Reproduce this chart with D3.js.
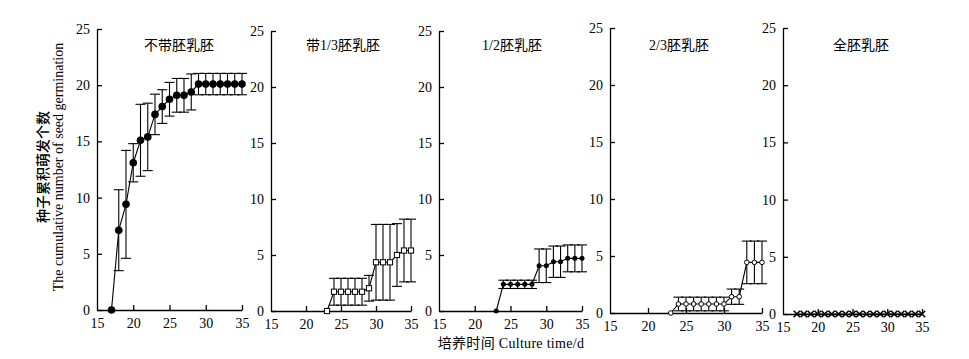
<!DOCTYPE html>
<html><head><meta charset="utf-8">
<script src="https://cdn.jsdelivr.net/npm/d3@7"></script>
<style>html,body{margin:0;padding:0;background:#fff;}</style>
</head><body>
<script>
// ---- data ----
const titles = ["不带胚乳胚", "带1/3胚乳胚", "1/2胚乳胚", "2/3胚乳胚", "全胚乳胚"];
const days1 = [17,18,19,20,21,22,23,24,25,26,27,28,29,30,31,32,33,34,35];
const mean1 = [0,7.1,9.4,13.1,15.1,15.4,17.4,18.1,18.75,19.1,19.1,19.4,20.1,20.1,20.1,20.1,20.1,20.1,20.1];
const sd1   = [0,3.6,4.8,1.7,3.2,3.0,1.8,1.5,1.5,1.5,1.5,1.6,0.95,0.95,0.95,0.95,0.95,0.95,0.95];
const days2 = [23,24,25,26,27,28,29,30,31,32,33,34,35];
const mean2 = [0,1.72,1.72,1.72,1.72,1.72,2.03,4.35,4.35,4.35,5.0,5.4,5.4];
const sd2   = [0,1.2,1.2,1.2,1.2,1.2,1.15,3.38,3.38,3.38,2.8,2.8,2.8];
const days3 = [23,24,25,26,27,28,29,30,31,32,33,34,35];
const mean3 = [0,2.38,2.38,2.38,2.38,2.38,4.04,4.04,4.4,4.4,4.7,4.7,4.7];
const sd3   = [0,0.37,0.37,0.37,0.37,0.37,1.5,1.5,1.4,1.4,1.2,1.2,1.2];
const days4 = [23,24,25,26,27,28,29,30,31,32,33,34,35];
const mean4 = [0,0.79,0.79,0.79,0.79,0.79,0.79,0.79,1.43,1.43,4.44,4.44,4.44];
const sd4   = [0,0.6,0.6,0.6,0.6,0.6,0.6,0.6,0.67,0.67,1.87,1.87,1.87];
const days5 = [17,18,19,20,21,22,23,24,25,26,27,28,29,30,31,32,33,34,35];
const mean5 = [0,0,0,0,0,0,0,0,0,0,0,0,0,0,0,0,0,0,0];
const sd5   = [0,0,0,0,0,0,0,0,0,0,0,0,0,0,0,0,0,0,0];
const xTicks = [15,20,25,30,35];
const yTicks = [0,5,10,15,20,25];
const yLabelCN = "种子累积萌发个数";
const yLabelEN = "The cumulative number of seed germination";
const xLabel = "培养时间 Culture time/d";

// ---- layout ----
const W = 969, H = 359;
const layout = [
  {x0:97,  x1:242, yT:29, yB:310, tx:179, marker:"bigdot"},
  {x0:271, x1:411, yT:31, yB:311, tx:343, marker:"square"},
  {x0:439, x1:582, yT:31, yB:311, tx:512, marker:"dot"},
  {x0:610, x1:762, yT:28, yB:313, tx:679, marker:"ring"},
  {x0:783, x1:922, yT:28, yB:314, tx:861, marker:"cross"}
];
const series = [[days1,mean1,sd1],[days2,mean2,sd2],[days3,mean3,sd3],[days4,mean4,sd4],[days5,mean5,sd5]];
const FONT = "'Liberation Serif','Times New Roman','Noto Sans CJK SC',serif";

const svg = d3.select("body").append("svg").attr("width",W).attr("height",H)
  .style("font-family",FONT);

layout.forEach((L,i)=>{
  const x = d3.scaleLinear().domain([15,35]).range([L.x0,L.x1]);
  const y = d3.scaleLinear().domain([0,25]).range([L.yB,L.yT]);
  const g = svg.append("g");
  // axes
  const ax = g.append("g").attr("transform",`translate(0,${L.yB})`)
    .call(d3.axisBottom(x).tickValues(xTicks).tickSizeInner(-5).tickSizeOuter(0).tickPadding(8));
  const ay = g.append("g").attr("transform",`translate(${L.x0},0)`)
    .call(d3.axisLeft(y).tickValues(yTicks).tickSizeInner(-5).tickSizeOuter(0).tickPadding(7));
  [ax,ay].forEach(a=>{
    a.select(".domain").attr("stroke","#000").attr("stroke-width",1.3);
    a.selectAll(".tick line").attr("stroke","#000").attr("stroke-width",1.3);
    a.selectAll(".tick text").attr("fill","#000").style("font-size","14px").style("font-family",FONT);
  });
  ax.selectAll(".tick").filter(d=>d===15).select("line").remove();
  // title
  g.append("text").attr("x",L.tx).attr("y",50).attr("text-anchor","middle")
    .style("font-size","14px").text(titles[i]);
  const [ds,ms,ss] = series[i];
  const pts = ds.map((d,k)=>({d, m:ms[k], s:ss[k]}));
  // line
  g.append("path").datum(pts)
    .attr("d",d3.line().x(p=>x(p.d)).y(p=>y(p.m)))
    .attr("fill","none").attr("stroke","#000").attr("stroke-width",1.1);
  // error bars
  const cap = 5;
  const eb = g.append("g").attr("stroke","#000").attr("stroke-width",1.1);
  pts.filter(p=>p.s>0).forEach(p=>{
    const cx = x(p.d), t = y(p.m+p.s), b = y(Math.max(0,p.m-p.s));
    eb.append("line").attr("x1",cx).attr("x2",cx).attr("y1",t).attr("y2",b);
    eb.append("line").attr("x1",cx-cap).attr("x2",cx+cap).attr("y1",t).attr("y2",t);
    eb.append("line").attr("x1",cx-cap).attr("x2",cx+cap).attr("y1",b).attr("y2",b);
  });
  // markers
  const mg = g.append("g");
  pts.forEach(p=>{
    const cx = x(p.d), cy = y(p.m);
    if (L.marker==="bigdot") mg.append("circle").attr("cx",cx).attr("cy",cy).attr("r",3.8).attr("fill","#000");
    else if (L.marker==="dot") mg.append("circle").attr("cx",cx).attr("cy",cy).attr("r",2.5).attr("fill","#000");
    else if (L.marker==="ring") mg.append("circle").attr("cx",cx).attr("cy",cy).attr("r",2.3).attr("fill","#fff").attr("stroke","#000").attr("stroke-width",1);
    else if (L.marker==="square") mg.append("rect").attr("x",cx-2.6).attr("y",cy-2.6).attr("width",5.2).attr("height",5.2).attr("fill","#fff").attr("stroke","#000").attr("stroke-width",1);
    else {
      const r = 3.2;
      mg.append("path").attr("d",`M${cx-r},${cy-r}L${cx+r},${cy+r}M${cx-r},${cy+r}L${cx+r},${cy-r}`)
        .attr("stroke","#000").attr("stroke-width",1.6).attr("fill","none");
    }
  });
});

// axis titles
svg.append("text").attr("transform","translate(48,167) rotate(-90)").attr("text-anchor","middle")
  .style("font-size","14px").style("font-weight","500").text(yLabelCN);
svg.append("text").attr("transform","translate(63,167) rotate(-90)").attr("text-anchor","middle")
  .style("font-size","14px").text(yLabelEN);
svg.append("text").attr("x",511).attr("y",348).attr("text-anchor","middle")
  .style("font-size","14px").style("letter-spacing","0.3px").text(xLabel);
</script>
</body></html>
